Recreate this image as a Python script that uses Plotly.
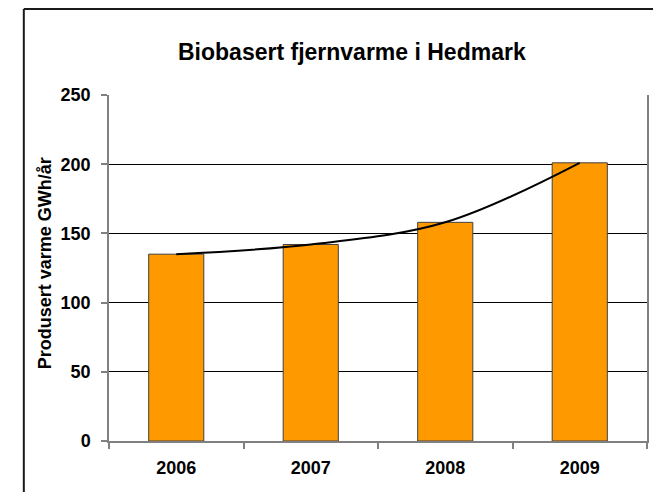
import plotly.graph_objects as go

years = ["2006", "2007", "2008", "2009"]
values = [135, 142, 158, 201]
y_ticks = [0, 50, 100, 150, 200, 250]

title_text = "Biobasert fjernvarme i Hedmark"
y_title = "Produsert varme GWh/år"

FONT = "Liberation Sans, Arial, sans-serif"

# page body has an 8px default margin; work in page pixels and offset
OFF = 8
PAGE_W, PAGE_H = 661, 492
W, H = PAGE_W - OFF, PAGE_H - OFF
plot_left, plot_right, plot_top, plot_bottom = 109, 649, 95, 441
L = plot_left - OFF
R = PAGE_W - plot_right
T = plot_top - OFF
B = PAGE_H - plot_bottom
pw, ph = plot_right - plot_left, plot_bottom - plot_top

def px_x(x):
    return (x - plot_left) / pw

def px_y(y):
    return (plot_bottom - y) / ph

fig = go.Figure()
fig.add_trace(go.Bar(
    x=years, y=values,
    marker=dict(color="#FF9900", line=dict(color="#404040", width=1)),
    width=0.41,
    showlegend=False,
))
fig.add_trace(go.Scatter(
    x=years, y=values, mode="lines",
    line=dict(color="black", width=2, shape="spline", smoothing=1.0),
    showlegend=False,
))

fig.update_layout(
    width=W, height=H,
    margin=dict(l=L, r=R, t=T, b=B),
    paper_bgcolor="white", plot_bgcolor="white",
    font=dict(family=FONT, color="black"),
    bargap=0.59,
)
fig.update_xaxes(
    type="category",
    showline=True, linecolor="#808080", linewidth=1.5,
    ticks="outside", tickson="boundaries", ticklen=6, tickcolor="#808080", tickwidth=1.5,
    tickfont=dict(family=FONT, size=18, weight="bold", color="black"),
    ticklabelstandoff=10,
    showgrid=False,
)
fig.update_yaxes(
    range=[0, 250], tickvals=y_ticks,
    showline=True, linecolor="#808080", linewidth=1.5, mirror=True,
    ticks="outside", ticklen=6, tickcolor="#808080", tickwidth=1.5,
    tickfont=dict(family=FONT, size=18, weight="bold", color="black"),
    ticklabelstandoff=7,
    showgrid=True, gridcolor="black", gridwidth=1,
    zeroline=False,
)

fig.add_annotation(
    text=title_text, xref="paper", yref="paper",
    x=px_x(353), y=px_y(52), xanchor="center", yanchor="middle",
    showarrow=False, font=dict(family=FONT, size=23, weight="bold", color="black"),
)
fig.add_annotation(
    text=y_title, xref="paper", yref="paper",
    x=px_x(45), y=px_y(263), xanchor="center", yanchor="middle",
    textangle=-90, showarrow=False,
    font=dict(family=FONT, size=18, weight="bold", color="black"),
)

frame = dict(type="line", xref="paper", yref="paper", line=dict(color="#1a1a1a", width=2))
fig.add_shape(**frame, x0=px_x(23.5), x1=px_x(23.5), y0=px_y(9), y1=px_y(500))
fig.add_shape(**frame, x0=px_x(23.5), x1=px_x(657), y0=px_y(9), y1=px_y(9))
fig.add_shape(**frame, x0=px_x(657), x1=px_x(657), y0=px_y(9), y1=px_y(500))

fig.write_html("out.html")
